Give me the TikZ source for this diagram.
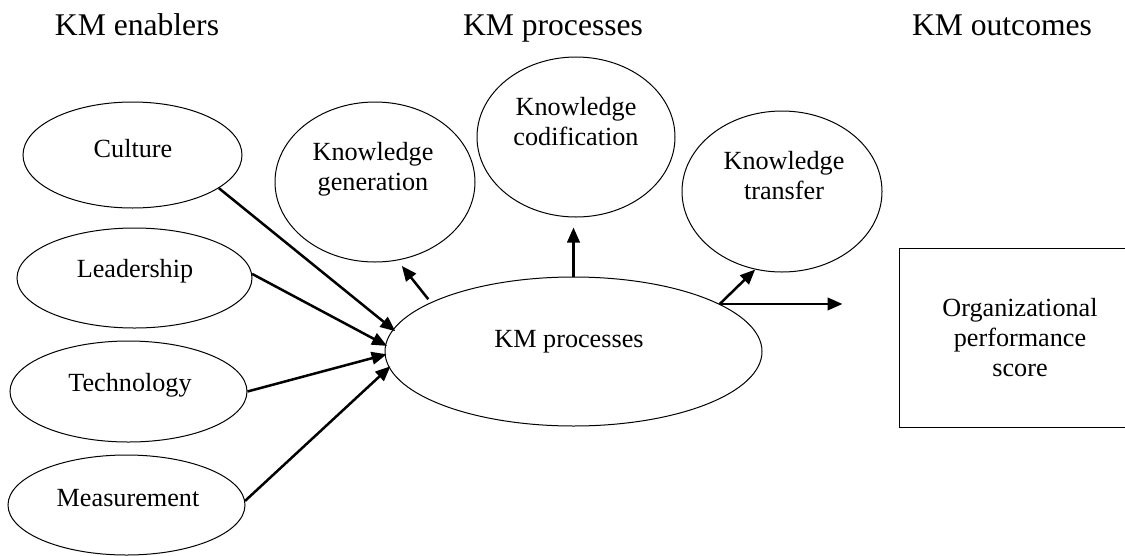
\documentclass[tikz,border=0pt]{standalone}
\usepackage{fontspec}
\setmainfont{Liberation Serif}
\usetikzlibrary{shapes.geometric,arrows.meta}

\begin{document}
\begin{tikzpicture}[x=1pt,y=-1pt,
  outline/.style={draw, line width=1pt},
  oval/.style={outline, ellipse, inner sep=0pt},
  lbl/.style={anchor=base, inner sep=0pt, font=\fontsize{26.2}{30}\selectfont},
  head/.style={anchor=base, inner sep=0pt, font=\fontsize{31.6}{36}\selectfont},
  link/.style={line width=2.5pt, -{Triangle[length=15pt,width=12.5pt]}}]
\clip (0,0) rectangle (1125,555);
\fill[white] (0,0) rectangle (1125,555);

% column headings
\node[head] (h-en)  at (137,35)  {KM enablers};
\node[head] (h-pr)  at (553,35)  {KM processes};
\node[head] (h-out) at (1002,35) {KM outcomes};

% enablers
\node[oval, minimum width=219pt, minimum height=106pt] (cul) at (132.5,155) {};
\node[oval, minimum width=235pt, minimum height=100pt] (ldr) at (134.5,278) {};
\node[oval, minimum width=237pt, minimum height=101pt] (tec) at (128.5,391.5) {};
\node[oval, minimum width=237pt, minimum height=100pt] (mea) at (126.5,505) {};
\node[lbl] (cul-t) at (133,157) {Culture};
\node[lbl] (ldr-t) at (135,277) {Leadership};
\node[lbl] (tec-t) at (130,391) {Technology};
\node[lbl] (mea-t) at (128,506) {Measurement};

% processes
\node[oval, minimum width=377pt, minimum height=149pt] (km) at (573.5,351.5) {};
\node[oval, minimum width=200pt, minimum height=160pt] (kg) at (375,182) {};
\node[oval, minimum width=198pt, minimum height=160pt] (kc) at (576,137) {};
\node[oval, minimum width=200pt, minimum height=161pt] (kt) at (782,191.5) {};
\node[lbl] (km-t) at (569,347) {KM processes};
\node[lbl] (kg-t) at (373,160) {\begin{tabular}[t]{@{}c@{}}Knowledge\\generation\end{tabular}};
\node[lbl] (kc-t) at (576,115) {\begin{tabular}[t]{@{}c@{}}Knowledge\\codification\end{tabular}};
\node[lbl] (kt-t) at (784,169) {\begin{tabular}[t]{@{}c@{}}Knowledge\\transfer\end{tabular}};

% outcome
\node[outline, rectangle, inner sep=0pt, minimum width=242pt, minimum height=179pt] (org) at (1020,337.5) {};
\node[lbl] (org-t) at (1020,316) {\begin{tabular}[t]{@{}c@{}}Organizational\\performance\\score\end{tabular}};

% enablers feed the KM processes
\draw[link, shorten >=-3pt] (cul.-21.7) -- (km.173.4);
\draw[link, shorten >=-2pt] (ldr.2.4)   -- (km.178);
\draw[link, shorten >=-2pt] (tec.east)  -- (km.181.7);
\draw[link, shorten >=-2pt] (mea.2.4)   -- (km.185.7);

% KM processes and their components
\draw[link, shorten <=4pt, shorten >=7pt] (km.161.6) -- (kg.-74);
\draw[link, shorten >=10pt] (km.north) -- (km.north |- kc.south);
\draw[link] (km.18) -- (kt.-109);
\draw[link, shorten >=56pt] (km.18) -- (km.18 -| org.west);
\end{tikzpicture}
\end{document}
